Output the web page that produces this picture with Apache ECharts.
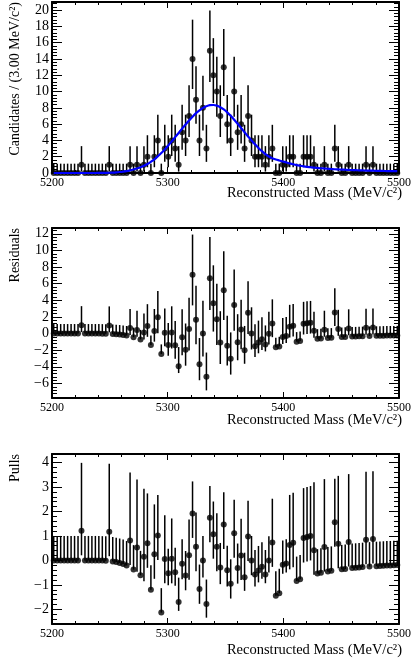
<!DOCTYPE html>
<html><head><meta charset="utf-8">
<script src="https://cdn.jsdelivr.net/npm/echarts@6/dist/echarts.min.js"></script>
<style>html,body{margin:0;padding:0;background:#fff}#c{width:414px;height:663px}</style>
</head><body><div id="c"></div>
<script>
// ---- data ----
const massMin = 5200, massMax = 5500, binWidth = 3;
const counts = [
  0,0,0,0,0,0,0,0,1,0,
  0,0,0,0,0,0,1,0,0,0,
  0,0,1,0,1,0,1,2,0,2,
  4,0,3,2,4,3,1,5,4,7,
  14,9,4,8,3,15,12,10,7,13,
  6,4,10,5,6,3,7,4,2,2,
  2,1,2,3,0,0,1,1,2,2,
  0,0,2,2,2,1,0,0,1,0,
  0,3,1,0,0,1,0,0,0,0,
  1,0,1,0,0,0,0,0,0,0
];
const fitAtBin = [
  0,0,0,0,0,0,0,0,0,0,
  0,0,0,0.005,0.01,0.02,0.03,0.05,0.08,0.12,
  0.17,0.24,0.33,0.43,0.56,0.7,0.88,1.1,1.38,1.68,
  2.05,2.45,2.9,3.38,3.88,4.4,4.92,5.45,5.95,6.45,
  6.92,7.35,7.7,8.0,8.2,8.33,8.35,8.27,8.08,7.8,
  7.45,7.02,6.55,6.05,5.52,5.0,4.48,4.0,3.52,3.08,
  2.68,2.32,2.02,1.8,1.66,1.54,1.42,1.3,1.18,1.07,
  0.97,0.89,0.82,0.76,0.71,0.66,0.62,0.58,0.55,0.52,
  0.49,0.46,0.44,0.42,0.4,0.38,0.36,0.345,0.33,0.315,
  0.3,0.29,0.28,0.27,0.26,0.25,0.24,0.235,0.23,0.22
];
// Poisson (68.3%) interval half-widths for n = 0..15
const poissonLow  = [0,0.8274,1.2918,1.6327,1.9143,2.1596,2.3800,2.5812,2.7676,2.9420,3.1063,3.2621,3.4105,3.5526,3.6889,3.8201];
const poissonHigh = [1.1479,2.2996,2.6379,2.9181,3.1627,3.3825,3.5837,3.7706,3.9459,4.1113,4.2683,4.4180,4.5612,4.6988,4.8312,4.9590];
const xTicks = [5200,5300,5400,5500];
const topYTicks = [0,2,4,6,8,10,12,14,16,18,20];
const resYTicks = [-6,-4,-2,0,2,4,6,8,10,12];
const pullYTicks = [-2,-1,0,1,2,3,4];
const xTitle = 'Reconstructed Mass (MeV/c²)';
const yTitles = ['Candidates / (3.00 MeV/c²)', 'Residuals', 'Pulls'];

// ---- derived ----
const centers = counts.map((_, i) => massMin + binWidth * (i + 0.5));
const dataPts = [], dataErr = [], resPts = [], resErr = [], pullPts = [], pullErr = [], fitLine = [];
counts.forEach((n, i) => {
  const x = centers[i], f = fitAtBin[i], lo = poissonLow[n], hi = poissonHigh[n];
  dataPts.push([x, n]); dataErr.push([x, n - lo, n + hi]);
  const r = n - f;
  resPts.push([x, r]); resErr.push([x, r - lo, r + hi]);
  const norm = r > 0 ? lo : hi;
  const p = r / norm;
  pullPts.push([x, p]); pullErr.push([x, p - lo / norm, p + hi / norm]);
  fitLine.push([x, f]);
});

const FONT = 'Liberation Serif';
const grids = [
  {left:52, top:2, width:349, height:171, yMin:0, yMax:21, ticks:topYTicks, minorStep:0.4},
  {left:52, top:228, width:349, height:170, yMin:-7.75, yMax:12.7, ticks:resYTicks, minorStep:0.4},
  {left:52, top:454, width:349, height:170, yMin:-2.6, yMax:4.35, ticks:pullYTicks, minorStep:0.2}
];
function minorValues(g){
  const out = [];
  const start = Math.ceil((g.yMin - g.ticks[0]) / g.minorStep - 1e-6);
  for (let k = start; ; k++) {
    const v = Math.round((g.ticks[0] + k * g.minorStep) * 1000) / 1000;
    if (v > g.yMax + 1e-9) break;
    if (v >= g.yMin - 1e-9) out.push(v);
  }
  return out;
}
const frameLine = {show:true, onZero:false, lineStyle:{color:'#000', width:2}};
const tickStyle = {color:'#000', width:1};
const fmt = v => String(v).replace('-', '\u2212');

const xAxis = [], yAxis = [], series = [];
grids.forEach((g, gi) => {
  const xb = {type:'value', gridIndex:gi, min:massMin, max:massMax, interval:100, splitLine:{show:false},
    axisLine:frameLine, axisTick:{show:true, inside:true, length:6, lineStyle:tickStyle},
    minorTick:{show:true, splitNumber:5, length:3, lineStyle:tickStyle}};
  xAxis.push(Object.assign({}, xb, {position:'bottom',
    axisLabel:{show:true, color:'#000', fontFamily:FONT, fontSize:12, margin:4, formatter:fmt,
      customValues: xTicks}}));
  xAxis.push(Object.assign({}, xb, {position:'top', axisLabel:{show:false}}));
  const yb = {type:'value', gridIndex:gi, min:g.yMin, max:g.yMax, splitLine:{show:false}};
  yAxis.push(Object.assign({}, yb, {position:'left', axisLine:frameLine,
    axisTick:{show:true, inside:true, length:10, lineStyle:tickStyle, customValues:g.ticks},
    axisLabel:{show:true, color:'#000', fontFamily:FONT, fontSize:14, margin:3, formatter:fmt, customValues:g.ticks}}));
  yAxis.push(Object.assign({}, yb, {position:'right', axisLine:frameLine,
    axisTick:{show:true, inside:true, length:10, lineStyle:tickStyle, customValues:g.ticks},
    axisLabel:{show:false}}));
  const mv = minorValues(g);
  ['left','right'].forEach(pos => yAxis.push(Object.assign({}, yb, {position:pos, axisLine:{show:false},
    axisTick:{show:true, inside:true, length:5, lineStyle:tickStyle, customValues:mv},
    axisLabel:{show:false}})));

  const pts = [dataPts, resPts, pullPts][gi];
  const errs = [dataErr, resErr, pullErr][gi];
  series.push({type:'custom', xAxisIndex:gi*2, yAxisIndex:gi*4, data:errs, clip:true, z:2,
    encode:{x:0, y:[1,2]},
    renderItem:(params, api) => {
      const x = api.value(0);
      const a = api.coord([x, api.value(1)]), b = api.coord([x, api.value(2)]);
      return {type:'line', shape:{x1:a[0], y1:a[1], x2:b[0], y2:b[1]}, style:{stroke:'#000', lineWidth:1.5}};
    }});
  series.push({type:'scatter', xAxisIndex:gi*2, yAxisIndex:gi*4, data:pts, symbol:'circle', symbolSize:6,
    itemStyle:{color:'#000'}, z:3, clip:false, silent:true});
  if (gi === 0) {
    series.push({type:'line', xAxisIndex:0, yAxisIndex:0, data:fitLine, smooth:0.3, showSymbol:false,
      lineStyle:{color:'#0000ff', width:2.2}, z:4, silent:true});
  }
});

const graphic = [];
const xTitleY = [193, 420, 650];
grids.forEach((g, gi) => {
  graphic.push({type:'text', x:402, y:xTitleY[gi], style:{text:xTitle, font:'14.5px "Liberation Serif"', fill:'#000',
    align:'right', verticalAlign:'middle'}});
  graphic.push({type:'text', x:15, y:g.top, rotation:Math.PI/2, style:{text:yTitles[gi], font:'14px "Liberation Serif"', fill:'#000',
    align:'right', verticalAlign:'middle'}});
});

const chart = echarts.init(document.getElementById('c'), null, {renderer:'canvas'});
chart.setOption({
  backgroundColor:'#fff', animation:false,
  grid: grids.map(g => ({left:g.left, top:g.top, width:g.width, height:g.height})),
  xAxis, yAxis, series, graphic
});
</script></body></html>
